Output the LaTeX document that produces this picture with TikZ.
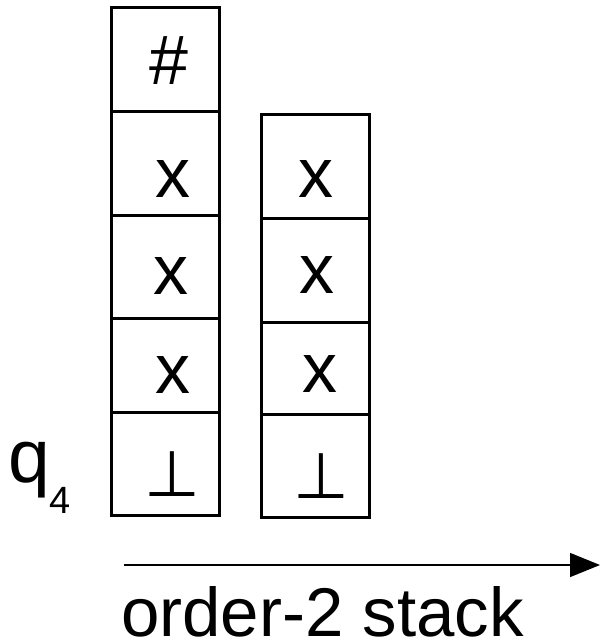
\documentclass[tikz,border=0pt]{standalone}
\usepackage{fontspec}
\setmainfont{Liberation Sans}
\newfontfamily\symbolfont{DejaVu Sans}
\usetikzlibrary{arrows.meta}

\tikzset{
  cell/.style={draw, line width=3pt, rectangle, minimum width=108pt, inner sep=0pt},
  sym/.style={anchor=base, inner sep=0pt, font=\fontsize{70}{70}\selectfont},
  perpsym/.style={anchor=base, inner sep=0pt, font=\symbolfont\fontsize{64}{64}\selectfont},
  axis/.style={line width=1.5pt, -{Triangle[length=30pt,width=24pt]}},
}

\begin{document}
\begin{tikzpicture}[x=1pt, y=-1pt]
  \useasboundingbox (0,0) rectangle (601,642);

  % first order-1 stack (left column)
  \node[cell, minimum height=103pt] (L5) at (165,59.5) {};
  \node[cell, minimum height=104pt] (L4) at (165,163) {};
  \node[cell, minimum height=103pt] (L3) at (165,266.5) {};
  \node[cell, minimum height=94pt]  (L2) at (165,365) {};
  \node[cell, minimum height=103pt] (L1) at (165,463.5) {};

  % second order-1 stack (right column)
  \node[cell, minimum height=104pt] (R4) at (315,166) {};
  \node[cell, minimum height=104pt] (R3) at (315,270) {};
  \node[cell, minimum height=92pt]  (R2) at (315,368) {};
  \node[cell, minimum height=103pt] (R1) at (315,465.5) {};

  % cell contents
  \node[sym] (tL5) at (169,84) {\#};
  \node[sym] (tL4) at (173,197) {x};
  \node[sym] (tL3) at (171,294) {x};
  \node[sym] (tL2) at (173,393) {x};
  \node[perpsym] (tL1) at (172,496) {⊥};

  \node[sym] (tR4) at (316,197) {x};
  \node[sym] (tR3) at (317,293) {x};
  \node[sym] (tR2) at (320,392) {x};
  \node[perpsym] (tR1) at (321,498) {⊥};

  % control state
  \node[anchor=base west, inner sep=0pt] (state) at (8,482)
    {{\fontsize{75}{75}\selectfont q}{\fontsize{38}{38}\selectfont\raisebox{-31pt}{4}}};

  % order-2 axis
  \coordinate (a0) at (124,565);
  \coordinate (a1) at (600,565);
  \draw[axis] (a0) -- (a1);
  \node[anchor=base west, inner sep=0pt, font=\fontsize{69}{69}\selectfont] (lbl) at (121,636) {order-2 stack};
\end{tikzpicture}
\end{document}
